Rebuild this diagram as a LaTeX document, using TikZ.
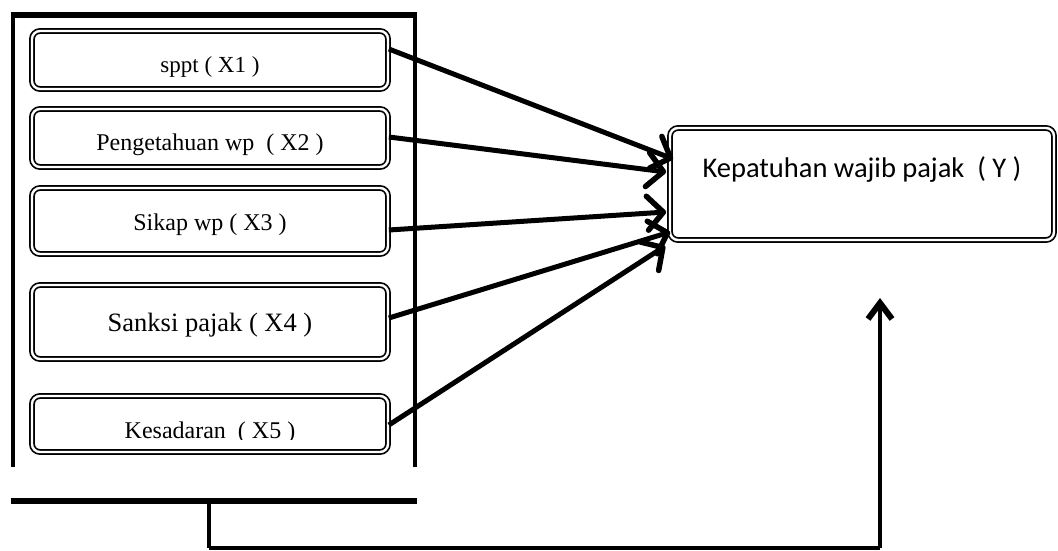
\documentclass[tikz,border=0pt]{standalone}
\usepackage{fontspec}
\setmainfont{Liberation Serif}
\newfontfamily\calib{Carlito}
\usetikzlibrary{arrows.meta}
\begin{document}
\begin{tikzpicture}[x=1pt,y=-1pt,
  dbox/.style={draw, line width=1.7pt, double=white, double distance=2.4pt,
    rounded corners=8pt, inner sep=0pt},
  xbox/.style={dbox, minimum width=356pt},
  lbl/.style={inner sep=0pt, anchor=base},
  frame/.style={line width=4pt},
  conn/.style={line width=5pt, -{Straight Barb[length=16pt, width=34pt, line width=5.5pt 0, round]}},
  feed/.style={line width=3.8pt}
]
\useasboundingbox (0,0) rectangle (1058,551);
% outer frame
\draw[frame] (13,467) -- (13,15) -- (415,15) -- (415,467);
\draw[line width=5.5pt] (11,15) -- (417,15);
% boxes
\node[xbox, minimum height=58pt] (b1) at (210,60) {};
\node[xbox, minimum height=58pt] (b2) at (210,138) {};
\node[xbox, minimum height=66pt] (b3) at (210,221) {};
\node[xbox, minimum height=74pt] (b4) at (210,322) {};
\node[xbox, minimum height=56pt] (b5) at (210,424) {};
\node[lbl, font=\fontsize{23}{26}\selectfont] (t1) at (210,73) {sppt ( X1 )};
\node[lbl, font=\fontsize{24}{27}\selectfont] (t2) at (210,150) {Pengetahuan wp \ ( X2 )};
\node[lbl, font=\fontsize{24}{27}\selectfont] (t3) at (210,230) {Sikap wp ( X3 )};
\node[lbl, font=\fontsize{26.5}{30}\selectfont] (t4) at (210,331) {Sanksi pajak ( X4 )};
\begin{scope}
\clip (34,398) rectangle (386,439);
\node[lbl, font=\fontsize{24}{27}\selectfont] (t5) at (210,438) {Kesadaran \ ( X5 )};
\end{scope}
% dependent box
\node[dbox, minimum width=384pt, minimum height=112pt] (y) at (862,184) {};
\node[lbl, font=\calib\fontsize{28.5}{32}\selectfont] (ty) at (862,177) {Kepatuhan wajib pajak \ ( Y )};
% arrows
\draw[conn] ([yshift=11pt]b1.east) -- ([xshift=4pt,yshift=25pt]y.west);
\draw[conn] ([yshift=1pt]b2.east) -- ([xshift=-3pt,yshift=12pt]y.west);
\draw[conn] ([yshift=-9pt]b3.east) -- ([xshift=-3pt,yshift=-28pt]y.west);
\draw[conn] ([yshift=4pt]b4.east) -- ([xshift=1pt,yshift=-48pt]y.west);
\draw[conn] ([yshift=-1pt]b5.east) -- ([xshift=-4pt,yshift=-62pt]y.west);
% bottom bar and feedback connector
\coordinate (bar) at (209,501);
\draw[line width=6pt] (11,501) -- (417,501);
\coordinate (corner1) at (209,548);
\coordinate (corner2) at (880,548);
\coordinate (tip) at (880,298);
\draw[feed] (bar) -- (corner1);
\draw[line width=4.5pt] (corner1) -- (corner2);
\draw[feed, -{Straight Barb[length=16pt, width=24pt, line width=6pt 0]}] (corner2) -- (tip);
\end{tikzpicture}
\end{document}
